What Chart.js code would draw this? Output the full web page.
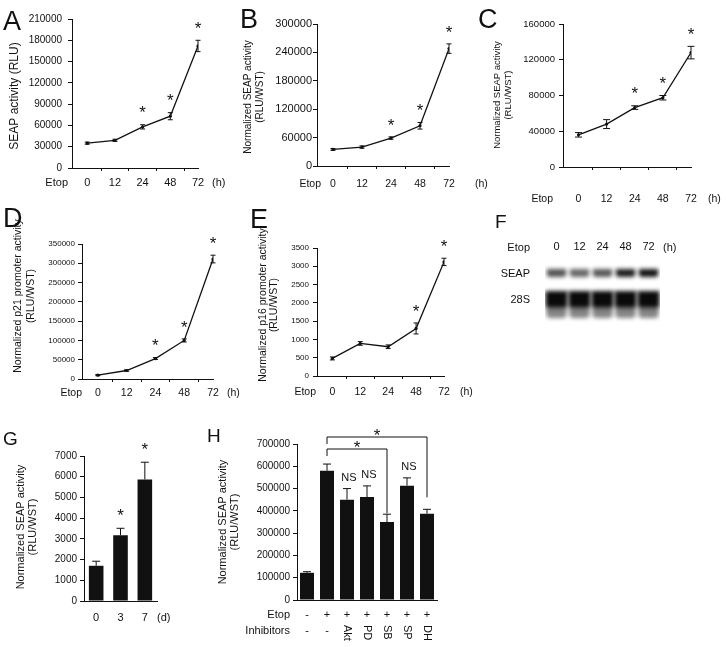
<!DOCTYPE html>
<html>
<head>
<meta charset="utf-8">
<script src="https://cdn.jsdelivr.net/npm/chart.js@4.4.0/dist/chart.umd.min.js"></script>
<style>
  body { margin: 0; background: #fff; }
  #fig { position: relative; width: 726px; height: 647px; overflow: hidden; background: #fff; }
  canvas { position: absolute; }
</style>
</head>
<body>
<div id="fig">
  <canvas id="cA" width="235" height="200" style="left:0px;top:0px"></canvas>
  <canvas id="cB" width="260" height="200" style="left:230px;top:0px"></canvas>
  <canvas id="cC" width="256" height="215" style="left:470px;top:0px"></canvas>
  <canvas id="cD" width="240" height="210" style="left:0px;top:200px"></canvas>
  <canvas id="cE" width="250" height="210" style="left:230px;top:200px"></canvas>
  <canvas id="cF" width="190" height="130" style="left:490px;top:205px"></canvas>
  <canvas id="cG" width="200" height="215" style="left:0px;top:420px"></canvas>
  <canvas id="cH" width="250" height="227" style="left:200px;top:420px"></canvas>
</div>
<script>
// ---- data ----
const hours = ['0', '12', '24', '48', '72'];
const days = ['0', '3', '7'];

// A: SEAP activity (RLU)
const seapRlu = [35000, 39000, 58000, 73000, 172000];
const seapRluSd = [1500, 1500, 3000, 5000, 8000];
const seapRluSig = [0, 0, 1, 1, 1];
const ticksA = [0, 30000, 60000, 90000, 120000, 150000, 180000, 210000];

// B: normalized SEAP
const seapB = [35000, 40000, 59000, 85000, 248000];
const seapBSd = [2000, 2500, 2500, 7000, 10000];
const seapBSig = [0, 0, 1, 1, 1];
const ticksB = [0, 60000, 120000, 180000, 240000, 300000];

// C: normalized SEAP
const seapC = [36000, 48000, 66500, 77500, 128000];
const seapCSd = [2500, 5000, 2000, 2500, 7000];
const seapCSig = [0, 0, 1, 1, 1];
const ticksC = [0, 40000, 80000, 120000, 160000];

// D: p21 promoter
const p21 = [10000, 22000, 53000, 100000, 311000];
const p21Sd = [1500, 2000, 2500, 4000, 10000];
const p21Sig = [0, 0, 1, 1, 1];
const ticksD = [0, 50000, 100000, 150000, 200000, 250000, 300000, 350000];

// E: p16 promoter
const p16 = [480, 890, 800, 1300, 3120];
const p16Sd = [40, 50, 50, 150, 100];
const p16Sig = [0, 0, 0, 1, 1];
const ticksE = [0, 500, 1000, 1500, 2000, 2500, 3000, 3500];

// F: northern blot band strength per lane
const seapBand = [0.7, 0.62, 0.68, 0.92, 0.96];
const band28S = [1, 1, 1, 1, 1];

// G: SEAP over days
const seapDays = [1700, 3180, 5870];
const seapDaysSd = [220, 330, 830];
const seapDaysSig = [0, 1, 1];
const ticksG = [0, 1000, 2000, 3000, 4000, 5000, 6000, 7000];

// H: inhibitors
const etopRow = ['-', '+', '+', '+', '+', '+', '+'];
const inhibitors = ['-', '-', 'Akt', 'PD', 'SB', 'SP', 'DH'];
const seapInhib = [122000, 580000, 450000, 462000, 350000, 513000, 387000];
const seapInhibSd = [5000, 30000, 50000, 50000, 35000, 35000, 20000];
const seapInhibNS = [0, 0, 1, 1, 0, 1, 0];
const comparisons = [[1, 6], [1, 4]];
const ticksH = [0, 100000, 200000, 300000, 400000, 500000, 600000, 700000];

// ---- drawing ----
const FONT = '"Liberation Sans", Arial, sans-serif';
const INK = '#111';
Chart.defaults.font.family = FONT;
Chart.defaults.color = INK;
Chart.defaults.animation = false;

function star(ctx, x, cy) {
  ctx.font = '17px ' + FONT;
  ctx.textAlign = 'center';
  ctx.textBaseline = 'middle';
  ctx.fillText('*', x, cy + 4);
}

// error bars, asterisks, NS, brackets
const marks = {
  id: 'marks',
  afterDatasetsDraw(chart, args, o) {
    const {ctx, scales: {y}, chartArea} = chart;
    const meta = chart.getDatasetMeta(0);
    const raw = chart.data.datasets[0].data;
    const val = i => (typeof raw[i] === 'object' ? raw[i].y : raw[i]);
    const errTop = i => y.getPixelForValue(val(i) + o.err[i]);
    ctx.save();
    ctx.strokeStyle = INK;
    ctx.fillStyle = INK;
    ctx.lineWidth = 1;
    meta.data.forEach((el, i) => {
      const top = errTop(i);
      const bot = o.both ? y.getPixelForValue(val(i) - o.err[i]) : el.y;
      ctx.beginPath();
      ctx.moveTo(el.x, top); ctx.lineTo(el.x, bot);
      ctx.moveTo(el.x - o.cap, top); ctx.lineTo(el.x + o.cap, top);
      if (o.both) { ctx.moveTo(el.x - o.cap, bot); ctx.lineTo(el.x + o.cap, bot); }
      ctx.stroke();
      if (o.sig && o.sig[i]) star(ctx, el.x, top - o.gap);
      if (o.ns && o.ns[i]) {
        ctx.font = '11px ' + FONT;
        ctx.textAlign = 'center';
        ctx.textBaseline = 'middle';
        ctx.fillText('NS', el.x + 2, top - 11);
      }
    });
    (o.brackets || []).forEach(([a, b], k) => {
      const yb = chartArea.top - 7 + k * 12;
      const xa = meta.data[a].x, xb = meta.data[b].x;
      const end = errTop(b) - (k === 0 ? 12 : 1);
      ctx.beginPath();
      ctx.moveTo(xa, yb + 7); ctx.lineTo(xa, yb); ctx.lineTo(xb, yb); ctx.lineTo(xb, end);
      ctx.stroke();
      star(ctx, (xa + xb) / 2, yb - 5);
    });
    ctx.restore();
  }
};

// panel letters, extra labels, rotated y titles
const decor = {
  id: 'decor',
  afterDraw(chart, args, o) {
    const ctx = chart.ctx;
    const [ox, oy] = o.origin;
    ctx.save();
    ctx.fillStyle = INK;
    if (o.letter) {
      ctx.font = o.letter.size + 'px ' + FONT;
      ctx.textAlign = 'left';
      ctx.textBaseline = 'alphabetic';
      ctx.fillText(o.letter.text, o.letter.x - ox, o.letter.y - oy);
    }
    (o.texts || []).forEach(t => {
      ctx.font = t.size + 'px ' + FONT;
      ctx.textAlign = t.align || 'left';
      ctx.textBaseline = 'middle';
      ctx.fillText(t.text, t.x - ox, t.y - oy);
    });
    if (o.title) {
      const t = o.title;
      ctx.font = t.size + 'px ' + FONT;
      ctx.textAlign = 'center';
      ctx.textBaseline = 'middle';
      t.lines.forEach((line, i) => {
        ctx.save();
        ctx.translate(t.x - ox + i * t.lh, t.y - oy);
        ctx.rotate(-Math.PI / 2);
        ctx.fillText(line, 0, 0);
        ctx.restore();
      });
    }
    ctx.restore();
  }
};

// H: the Etop / Inhibitors rows under the bars
const rows = {
  id: 'rows',
  afterDraw(chart, args, o) {
    if (!o.etop) return;
    const {ctx, scales: {x}} = chart;
    const [ox, oy] = o.origin;
    ctx.save();
    ctx.fillStyle = INK;
    ctx.font = '11px ' + FONT;
    ctx.textBaseline = 'middle';
    o.etop.forEach((s, i) => {
      const px = x.getPixelForValue(i);
      ctx.textAlign = 'center';
      ctx.fillText(s, px, o.etopY - oy);
      const lab = o.inhib[i];
      if (lab === '-') {
        ctx.fillText(lab, px, o.inhibY - oy);
      } else {
        ctx.save();
        ctx.translate(px, o.inhibTop - oy);
        ctx.rotate(Math.PI / 2);
        ctx.textAlign = 'left';
        ctx.fillText(lab, 0, 0);
        ctx.restore();
      }
    });
    ctx.restore();
  }
};

// blur for the blot bands
const blur = {
  id: 'blur',
  beforeDatasetsDraw(chart) { chart.ctx.save(); chart.ctx.filter = 'blur(2.2px)'; },
  afterDatasetsDraw(chart) { chart.ctx.restore(); }
};

function origin(c) { return [parseFloat(c.style.left), parseFloat(c.style.top)]; }

function yScale(ticks, box, ox, font, labelRight) {
  return {
    min: ticks[0], max: ticks[ticks.length - 1],
    afterBuildTicks: s => { s.ticks = ticks.map(v => ({ value: v })); },
    afterFit: s => { s.width = box.l - ox; },
    grid: { drawOnChartArea: false, tickLength: 4, tickColor: INK },
    border: { color: INK },
    ticks: { padding: box.l - 4 - labelRight, font: { size: font }, color: INK, callback: v => String(v) }
  };
}

function timeChart(id, o) {
  const c = document.getElementById(id);
  const [ox, oy] = origin(c);
  const b = o.box;
  const xTicks = [];
  for (let v = 0; v <= hours.length - 1; v += 0.5) xTicks.push({ value: v });
  return new Chart(c, {
    type: 'line',
    data: {
      datasets: [{
        data: o.values.map((v, i) => ({ x: i, y: v })),
        borderColor: INK, borderWidth: 1.3,
        pointRadius: 1.6, pointBackgroundColor: INK, pointBorderWidth: 0,
        tension: 0
      }]
    },
    options: {
      responsive: false,
      layout: { padding: { left: 0, top: b.t - oy, right: c.width - (b.r - ox), bottom: 0 } },
      plugins: {
        legend: { display: false }, tooltip: { enabled: false },
        marks: { err: o.sd, both: true, cap: o.cap, sig: o.sig, gap: 15 },
        decor: Object.assign({ origin: [ox, oy] }, o.decor)
      },
      scales: {
        x: {
          type: 'linear', min: -0.55, max: hours.length - 1,
          afterBuildTicks: s => { s.ticks = xTicks.map(t => ({ value: t.value })); },
          afterFit: s => { s.height = c.height - (b.b - oy); },
          grid: {
            drawOnChartArea: false, tickLength: 3,
            tickColor: t => (t.tick && Number.isInteger(t.tick.value) ? 'rgba(0,0,0,0)' : INK)
          },
          border: { color: INK },
          ticks: {
            autoSkip: false, maxRotation: 0, minRotation: 0,
            padding: o.xLabelY - b.b - 3 - 0.6 * o.xFont,
            font: { size: o.xFont }, color: INK,
            callback: v => (Number.isInteger(v) ? hours[v] : '')
          }
        },
        y: yScale(o.yTicks, b, ox, o.yFont, o.yLabelRight)
      }
    },
    plugins: [marks, decor]
  });
}

function barChart(id, o) {
  const c = document.getElementById(id);
  const [ox, oy] = origin(c);
  const b = o.box;
  return new Chart(c, {
    type: 'bar',
    data: {
      labels: o.labels,
      datasets: [{ data: o.values, backgroundColor: INK, barPercentage: o.barPct, categoryPercentage: 1 }]
    },
    options: {
      responsive: false,
      layout: { padding: { left: 0, top: b.t - oy, right: c.width - (b.r - ox), bottom: 0 } },
      plugins: {
        legend: { display: false }, tooltip: { enabled: false },
        marks: { err: o.sd, both: false, cap: 4, sig: o.sig, ns: o.ns, brackets: o.brackets, gap: 16 },
        decor: Object.assign({ origin: [ox, oy] }, o.decor),
        rows: Object.assign({ origin: [ox, oy] }, o.rows || {})
      },
      scales: {
        x: {
          afterFit: s => { s.height = c.height - (b.b - oy); },
          grid: { display: false, drawTicks: false },
          border: { color: INK },
          ticks: {
            display: o.showX, maxRotation: 0,
            padding: o.showX ? o.xLabelY - b.b - 0.6 * o.xFont : 0,
            font: { size: o.xFont || 11 }, color: INK
          }
        },
        y: yScale(o.yTicks, b, ox, 10, o.yLabelRight)
      }
    },
    plugins: [marks, decor, rows]
  });
}

const seapTitle = ['Normalized SEAP activity', '(RLU/WST)'];

timeChart('cA', {
  values: seapRlu, sd: seapRluSd, sig: seapRluSig, yTicks: ticksA, cap: 2.5,
  box: { l: 72, t: 19, r: 198, b: 168 }, xFont: 11, xLabelY: 183, yFont: 10, yLabelRight: 62,
  decor: {
    letter: { text: 'A', x: 3, y: 30, size: 27 },
    title: { lines: ['SEAP activity (RLU)'], x: 15, y: 96, size: 12, lh: 14 },
    texts: [{ text: 'Etop', x: 68, y: 183, size: 11, align: 'right' }, { text: '(h)', x: 212, y: 183, size: 11 }]
  }
});

timeChart('cB', {
  values: seapB, sd: seapBSd, sig: seapBSig, yTicks: ticksB, cap: 2.5,
  box: { l: 317, t: 24, r: 449, b: 166 }, xFont: 10.5, xLabelY: 184, yFont: 11, yLabelRight: 312,
  decor: {
    letter: { text: 'B', x: 240, y: 28, size: 27 },
    title: { lines: seapTitle, x: 248, y: 97, size: 10, lh: 12 },
    texts: [{ text: 'Etop', x: 321, y: 184, size: 10.5, align: 'right' }, { text: '(h)', x: 475, y: 184, size: 10.5 }]
  }
});

timeChart('cC', {
  values: seapC, sd: seapCSd, sig: seapCSig, yTicks: ticksC, cap: 3.5,
  box: { l: 563, t: 24, r: 691, b: 167 }, xFont: 10.5, xLabelY: 199, yFont: 9.5, yLabelRight: 555,
  decor: {
    letter: { text: 'C', x: 478, y: 28, size: 27 },
    title: { lines: seapTitle, x: 497, y: 95, size: 9.5, lh: 11 },
    texts: [{ text: 'Etop', x: 553, y: 199, size: 10.5, align: 'right' }, { text: '(h)', x: 708, y: 199, size: 10.5 }]
  }
});

timeChart('cD', {
  values: p21, sd: p21Sd, sig: p21Sig, yTicks: ticksD, cap: 2.5,
  box: { l: 82, t: 244, r: 213, b: 379 }, xFont: 10.5, xLabelY: 393, yFont: 8, yLabelRight: 75,
  decor: {
    letter: { text: 'D', x: 3, y: 227, size: 27 },
    title: { lines: ['Normalized p21 promoter activity', '(RLU/WST)'], x: 18, y: 296, size: 10.5, lh: 13 },
    texts: [{ text: 'Etop', x: 82, y: 393, size: 10.5, align: 'right' }, { text: '(h)', x: 227, y: 393, size: 10.5 }]
  }
});

timeChart('cE', {
  values: p16, sd: p16Sd, sig: p16Sig, yTicks: ticksE, cap: 2.5,
  box: { l: 317, t: 248, r: 444, b: 376 }, xFont: 10.5, xLabelY: 392, yFont: 8, yLabelRight: 309,
  decor: {
    letter: { text: 'E', x: 250, y: 228, size: 27 },
    title: { lines: ['Normalized p16 promoter activity', '(RLU/WST)'], x: 263, y: 305, size: 10.5, lh: 11.5 },
    texts: [{ text: 'Etop', x: 316, y: 392, size: 10.5, align: 'right' }, { text: '(h)', x: 460, y: 392, size: 10.5 }]
  }
});

// F: blot, lanes as categories, bands as floating bars
(function () {
  const c = document.getElementById('cF');
  const [ox, oy] = origin(c);
  const shade = a => 'rgba(10,10,10,' + a + ')';
  new Chart(c, {
    type: 'bar',
    data: {
      labels: hours,
      datasets: [
        { data: hours.map(() => [13, 21]), backgroundColor: seapBand.map(shade), barPercentage: 0.84, categoryPercentage: 1, borderRadius: 3 },
        { data: hours.map(() => [35, 52]), backgroundColor: band28S.map(shade), barPercentage: 0.96, categoryPercentage: 1, borderRadius: 4 },
        { data: hours.map(() => [50, 62]), backgroundColor: band28S.map(a => shade(a * 0.5)), barPercentage: 0.88, categoryPercentage: 1, borderRadius: 4 }
      ]
    },
    options: {
      responsive: false,
      datasets: { bar: { grouped: false } },
      layout: { padding: { left: 55, top: 35, right: 20, bottom: 5 } },
      plugins: {
        legend: { display: false }, tooltip: { enabled: false },
        decor: {
          origin: [ox, oy],
          letter: { text: 'F', x: 495, y: 228, size: 19 },
          texts: [
            { text: 'Etop', x: 530, y: 248, size: 11, align: 'right' },
            { text: 'SEAP', x: 530, y: 274, size: 11, align: 'right' },
            { text: '28S', x: 530, y: 300, size: 11, align: 'right' },
            { text: '(h)', x: 663, y: 248, size: 11 }
          ]
        }
      },
      scales: {
        x: {
          position: 'top',
          afterFit: s => { s.height = 16; },
          grid: { display: false, drawTicks: false },
          border: { display: false },
          ticks: { padding: 2, font: { size: 11 }, color: INK, maxRotation: 0 }
        },
        y: { display: false, min: 0, max: 74, reverse: true }
      }
    },
    plugins: [blur, decor]
  });
})();

barChart('cG', {
  labels: days, values: seapDays, sd: seapDaysSd, sig: seapDaysSig, yTicks: ticksG, barPct: 0.6,
  box: { l: 84, t: 456, r: 157, b: 601 }, showX: true, xFont: 11, xLabelY: 618, yLabelRight: 77,
  decor: {
    letter: { text: 'G', x: 3, y: 445, size: 19 },
    title: { lines: seapTitle, x: 21, y: 527, size: 11, lh: 12 },
    texts: [{ text: '(d)', x: 157, y: 618, size: 11 }]
  }
});

barChart('cH', {
  labels: inhibitors, values: seapInhib, sd: seapInhibSd, ns: seapInhibNS, brackets: comparisons,
  yTicks: ticksH, barPct: 0.7,
  box: { l: 297, t: 444, r: 437, b: 600 }, showX: false, yLabelRight: 290,
  decor: {
    letter: { text: 'H', x: 207, y: 442, size: 19 },
    title: { lines: seapTitle, x: 223, y: 522, size: 11, lh: 12 },
    texts: [
      { text: 'Etop', x: 290, y: 615, size: 11, align: 'right' },
      { text: 'Inhibitors', x: 290, y: 631, size: 11, align: 'right' }
    ]
  },
  rows: { etop: etopRow, inhib: inhibitors, etopY: 615, inhibY: 631, inhibTop: 625 }
});
</script>
</body>
</html>
